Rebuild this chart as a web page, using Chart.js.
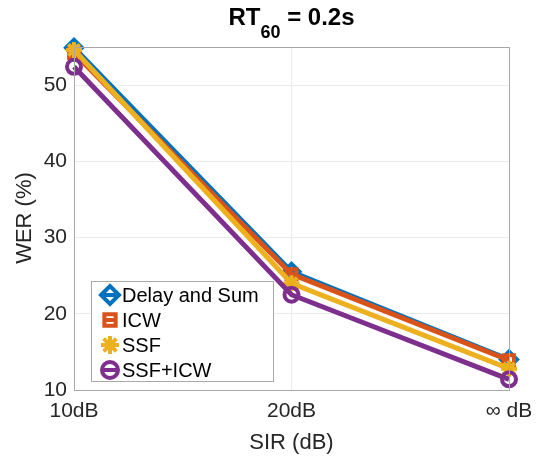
<!DOCTYPE html>
<html>
<head>
<meta charset="utf-8">
<script src="https://cdn.jsdelivr.net/npm/chart.js@4.4.1/dist/chart.umd.min.js"></script>
<style>
  html, body { margin: 0; padding: 0; background: #fff; }
  #wrap { width: 542px; height: 463px; }
</style>
</head>
<body>
<div id="wrap"><canvas id="wer"></canvas></div>
<script>
const sirLabels = ['10dB', '20dB', '\u221E dB'];
const delaySum = [54.9, 25.5, 14.0];
const icw = [54.2, 25.2, 13.9];
const ssf = [54.6, 24.0, 12.8];
const ssfIcw = [52.4, 22.5, 11.4];
const werTicks = [10, 20, 30, 40, 50];

const FONT = '"Liberation Sans", Arial, Helvetica, sans-serif';

const series = [
  { label: 'Delay and Sum', data: delaySum, color: '#0072BD', style: 'rectRot', r: 8 },
  { label: 'ICW', data: icw, color: '#D95319', style: 'rect', r: 7 },
  { label: 'SSF', data: ssf, color: '#EDB120', style: 'star', r: 8 },
  { label: 'SSF+ICW', data: ssfIcw, color: '#7E2F8E', style: 'circle', r: 7 }
];

// box, title (with subscript), axis titles and legend drawn by hand
const extras = {
  id: 'extras',
  afterDraw(chart) {
    const ctx = chart.ctx;
    const area = chart.chartArea;
    const midX = (area.left + area.right) / 2;
    ctx.save();
    ctx.strokeStyle = '#a8a8a8';
    ctx.lineWidth = 1;
    ctx.strokeRect(area.left + 0.5, area.top + 0.5, area.right - area.left, area.bottom - area.top);

    // title
    const big = 'bold 24px ' + FONT, small = 'bold 18px ' + FONT;
    ctx.fillStyle = '#000';
    ctx.textBaseline = 'alphabetic';
    ctx.textAlign = 'left';
    ctx.font = big; const w1 = ctx.measureText('RT').width;
    ctx.font = small; const w2 = ctx.measureText('60').width;
    ctx.font = big; const w3 = ctx.measureText(' = 0.2s').width;
    let x = midX - (w1 + w2 + w3) / 2;
    ctx.font = big; ctx.fillText('RT', x, 25); x += w1;
    ctx.font = small; ctx.fillText('60', x, 38); x += w2;
    ctx.font = big; ctx.fillText(' = 0.2s', x, 25);

    // axis titles
    ctx.fillStyle = '#262626';
    ctx.font = '22px ' + FONT;
    ctx.textAlign = 'center';
    ctx.textBaseline = 'middle';
    ctx.fillText('SIR (dB)', midX, 443);
    ctx.save();
    ctx.translate(25, 218);
    ctx.rotate(-Math.PI / 2);
    ctx.fillText('WER (%)', 0, 0);
    ctx.restore();

    // legend
    const lx = 91, ly = 281, lw = 182, lh = 100;
    ctx.fillStyle = '#fff';
    ctx.fillRect(lx, ly, lw, lh);
    ctx.strokeStyle = '#a8a8a8';
    ctx.lineWidth = 1;
    ctx.strokeRect(lx + 0.5, ly + 0.5, lw, lh);
    ctx.font = '20px ' + FONT;
    ctx.textAlign = 'left';
    series.forEach((s, i) => {
      const cy = ly + 14 + i * 25;
      const cx = lx + 19;
      ctx.strokeStyle = s.color;
      ctx.lineWidth = 4;
      ctx.fillStyle = 'rgba(0,0,0,0)';
      Chart.helpers.drawPoint(ctx, { pointStyle: s.style, radius: s.r + 1, borderWidth: 4, rotation: 0 }, cx, cy);
      ctx.beginPath(); ctx.moveTo(cx - 6, cy); ctx.lineTo(cx + 6, cy); ctx.stroke();
      ctx.fillStyle = '#000';
      ctx.fillText(s.label, lx + 31, cy + 1);
    });
    ctx.restore();
  }
};

new Chart(document.getElementById('wer'), {
  type: 'line',
  data: {
    labels: sirLabels,
    datasets: series.map((s, i) => ({
      label: s.label,
      data: s.data,
      borderColor: s.color,
      backgroundColor: 'rgba(0,0,0,0)',
      borderWidth: 5,
      pointStyle: s.style,
      pointRadius: s.r,
      pointBorderWidth: 4,
      pointBorderColor: s.color,
      pointBackgroundColor: 'rgba(0,0,0,0)',
      tension: 0,
      clip: false,
      order: series.length - i
    }))
  },
  options: {
    responsive: true,
    maintainAspectRatio: false,
    animation: false,
    layout: { padding: { top: 47, right: 33, left: 0, bottom: 0 } },
    plugins: {
      legend: { display: false },
      title: { display: false },
      tooltip: { enabled: false }
    },
    scales: {
      x: {
        type: 'category',
        offset: false,
        grid: { color: '#ebebeb', drawTicks: false },
        border: { color: '#a8a8a8' },
        ticks: { color: '#262626', font: { family: FONT, size: 21 }, padding: 9, maxRotation: 0 },
        afterFit(scale) { scale.height = 73; }
      },
      y: {
        min: 10,
        max: 55,
        afterBuildTicks(scale) { scale.ticks = werTicks.map(v => ({ value: v })); },
        grid: { color: '#ebebeb', drawTicks: false },
        border: { color: '#a8a8a8' },
        ticks: { color: '#262626', font: { family: FONT, size: 21 }, padding: 7 },
        afterFit(scale) { scale.width = 74; }
      }
    }
  },
  plugins: [extras]
});
</script>
</body>
</html>
